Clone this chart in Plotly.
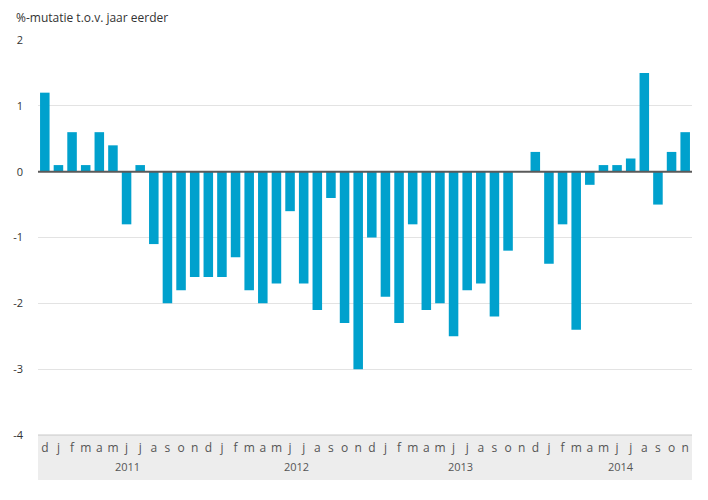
import plotly.graph_objects as go

months = ["d", "j", "f", "m", "a", "m", "j", "j", "a", "s", "o", "n",
          "d", "j", "f", "m", "a", "m", "j", "j", "a", "s", "o", "n",
          "d", "j", "f", "m", "a", "m", "j", "j", "a", "s", "o", "n",
          "d", "j", "f", "m", "a", "m", "j", "j", "a", "s", "o", "n"]
values = [1.2, 0.1, 0.6, 0.1, 0.6, 0.4, -0.8, 0.1, -1.1, -2.0, -1.8, -1.6,
          -1.6, -1.6, -1.3, -1.8, -2.0, -1.7, -0.6, -1.7, -2.1, -0.4, -2.3, -3.0,
          -1.0, -1.9, -2.3, -0.8, -2.1, -2.0, -2.5, -1.8, -1.7, -2.2, -1.2, 0.0,
          0.3, -1.4, -0.8, -2.4, -0.2, 0.1, 0.1, 0.2, 1.5, -0.5, 0.3, 0.6]
years = ["2011", "2012", "2013", "2014"]
year_centers = [6.1, 18.5, 30.5, 42.3]
y_ticks = [2, 1, 0, -1, -2, -3, -4]
title = "%-mutatie t.o.v. jaar eerder"

x = list(range(len(values)))
font = "Open Sans, DejaVu Sans, sans-serif"

fig = go.Figure()
fig.add_trace(go.Bar(x=x, y=values, marker_color="#00A1CD", marker_line_width=0,
                     hoverinfo="skip"))

plot_h = 395
band_h = 45
fig.add_shape(type="rect", xref="paper", yref="paper", x0=0, x1=1,
              y0=0, y1=-band_h / plot_h, fillcolor="#EDEDED", line_width=0,
              layer="below")
fig.add_shape(type="line", xref="paper", yref="paper", x0=0, x1=1,
              y0=0, y1=0, line=dict(color="#C8C8C8", width=1), layer="below")
fig.add_shape(type="line", xref="paper", yref="y", x0=0, x1=1, y0=0, y1=0,
              line=dict(color="#5A5A5A", width=2), layer="above")

for yr, c in zip(years, year_centers):
    fig.add_annotation(x=c, y=-31 / plot_h, xref="x", yref="paper",
                       text=yr, showarrow=False, yanchor="middle",
                       font=dict(family=font, size=11, color="#555555"))

fig.add_annotation(x=(14 - 38) / 654, y=1 + (40 - 18) / plot_h,
                   xref="paper", yref="paper", text=title,
                   showarrow=False, xanchor="left", yanchor="middle",
                   font=dict(family=font, size=12, color="#333333"))

fig.update_layout(
    width=708, height=500,
    margin=dict(l=38, r=16, t=40, b=65),
    paper_bgcolor="white", plot_bgcolor="white",
    showlegend=False, bargap=0.3,
    font=dict(family=font, size=11, color="#333333"),
    xaxis=dict(range=[-0.5, 47.5], tickmode="array", tickvals=x,
               ticktext=months, showgrid=False, zeroline=False,
               tickfont=dict(family=font, size=12, color="#555555"),
               ticks="", ticklabelstandoff=4, fixedrange=True),
    yaxis=dict(range=[-4, 2], tickmode="array", tickvals=y_ticks,
               ticktext=[str(v) for v in y_ticks], showgrid=True,
               gridcolor="#E3E3E3", gridwidth=1, zeroline=False,
               tickfont=dict(family=font, size=11, color="#333333"),
               ticks="", ticklabelstandoff=14, fixedrange=True),
)

fig.write_html("out.html")
